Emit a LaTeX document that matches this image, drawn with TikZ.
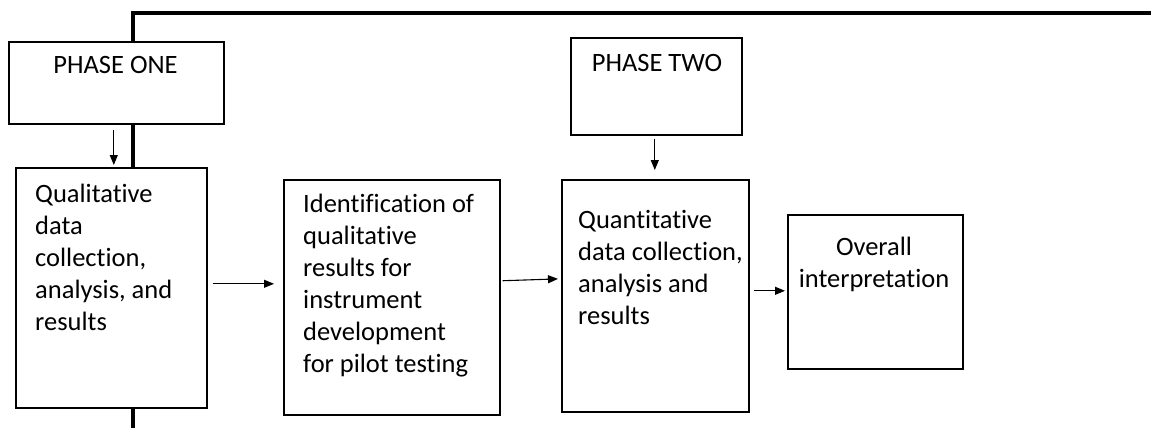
\documentclass[tikz,border=0pt]{standalone}
\usepackage{fontspec}
\setmainfont{Carlito}[Ligatures=NoCommon]
\usetikzlibrary{arrows.meta}
\tikzset{
  box/.style={draw, line width=1.6pt, fill=white, rectangle, inner sep=0pt, anchor=north west},
  txt/.style={inner sep=0pt, anchor=base west, align=flush left, font=\fontsize{26.5}{32}\selectfont},
  ctxt/.style={inner sep=0pt, anchor=base, align=flush center, font=\fontsize{26.5}{32}\selectfont},
  arr/.style={line width=1.1pt, -{Triangle[length=10pt,width=8pt]}},
  spine/.style={line width=4.8pt, line join=miter}
}
\begin{document}
\begin{tikzpicture}[x=1pt,y=-1pt]
\useasboundingbox (0,0) rectangle (1151,428);
\coordinate (s0) at (133,428);
\coordinate (s1) at (133,13);
\coordinate (s2) at (1151,13);
\draw[spine] (s0) -- (s1) -- (s2);

% boxes
\node[box, minimum width=215, minimum height=82] (p1) at (8,41) {};
\node[box, minimum width=191, minimum height=240] (q) at (15,167) {};
\node[box, minimum width=216, minimum height=235] (id) at (283,179) {};
\node[box, minimum width=171, minimum height=97] (p2) at (570,37) {};
\node[box, minimum width=187, minimum height=232] (qt) at (561,179) {};
\node[box, minimum width=175, minimum height=154] (ov) at (787,214) {};

% texts
\node[ctxt, text width=210pt] (p1t) at (115.5,74) {PHASE ONE};
\node[ctxt, text width=170pt] (p2t) at (657,71) {PHASE TWO};
\node[txt, text width=185pt] (qtx) at (35,202) {Qualitative\\data\\collection,\\analysis, and\\results};
\node[txt, text width=200pt] (idtx) at (303,212) {Identification of\\qualitative\\results for\\instrument\\development\\for pilot testing};
\node[txt, text width=180pt] (qttx) at (578,228) {Quantitative\\data collection,\\analysis and\\results};
\node[ctxt, text width=175pt] (ovtx) at (874,255) {Overall\\interpretation};

% connectors
\draw[arr, shorten <=5pt, shorten >=2pt] ([xshift=-2.5pt]p1.south) -- ([xshift=-2.5pt]p1.south |- q.north);
\draw[arr, shorten <=5pt, shorten >=9pt] ([yshift=4pt]q.east) -- ([yshift=4pt]q.east -| id.west);
\draw[arr, shorten <=2pt, shorten >=3pt] ([yshift=16.5pt]id.east) -- ([yshift=17pt]qt.west);
\draw[arr, shorten <=3pt, shorten >=9pt] ([xshift=-1.5pt]p2.south) -- ([xshift=-1.5pt]p2.south |- qt.north);
\draw[arr, shorten <=4pt, shorten >=2pt] ([yshift=1pt]ov.west -| qt.east) -- ([yshift=1pt]ov.west);
\end{tikzpicture}
\end{document}
